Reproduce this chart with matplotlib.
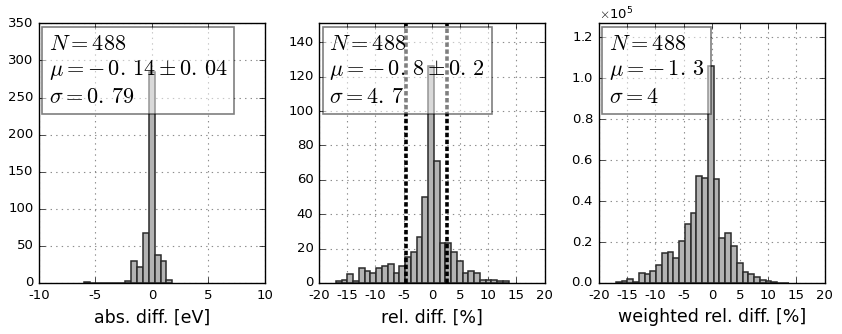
import numpy as np
import matplotlib
matplotlib.use("Agg")
import matplotlib.pyplot as plt

plt.style.use("classic")
plt.rcParams["mathtext.fontset"] = "cm"
plt.rcParams["axes.unicode_minus"] = False
plt.rcParams["font.family"] = ["DejaVu Sans"]

# ---------- data ----------
# abs. diff. [eV]: 15 bins, width 0.52 starting at -5.99
ABS_START, ABS_WIDTH = -5.99, 0.52
abs_counts = [1, 0, 0, 0, 0, 0, 0, 3, 29, 22, 67, 285, 38, 29, 4]

# rel. diff. [%]: 30 bins, width 1.02 starting at -17.0 (shared by both % panels)
REL_START, REL_WIDTH = -17.0, 1.02
rel_counts = [1, 2, 5, 1, 9, 7, 6, 9, 10, 11, 6, 10, 15, 18, 27, 50,
              126, 71, 23, 23, 18, 13, 6, 7, 6, 2, 2, 2, 1, 1]
rel_lines = [-4.5, 2.6]

# weighted rel. diff. [%], in units of 1e5
wrel_counts = [0.003, 0.010, 0.021, 0.005, 0.049, 0.044, 0.058, 0.086, 0.145,
               0.149, 0.120, 0.206, 0.286, 0.343, 0.521, 0.513, 1.059, 0.508,
               0.222, 0.242, 0.183, 0.100, 0.052, 0.045, 0.028, 0.013, 0.008,
               0.005, 0.002, 0.001]

stats = [
    r"$N=488$" "\n" r"$\mu=-\,0.\,14\pm0.\,04$" "\n" r"$\sigma=0.\,79$",
    r"$N=488$" "\n" r"$\mu=-\,0.\,8\pm0.\,2$" "\n" r"$\sigma=4.\,7$",
    r"$N=488$" "\n" r"$\mu=-\,1.\,3$" "\n" r"$\sigma=4$",
]
xlabels = ["abs. diff. [eV]", "rel. diff. [%]", "weighted rel. diff. [%]"]

# ---------- figure ----------
fig = plt.figure(figsize=(8.42, 3.34), dpi=100, facecolor="white")
lefts = [0.0463, 0.3789, 0.7114]
W, B, H = 0.2680, 0.1527, 0.7775


def draw_hist(ax, start, width, counts):
    counts = np.asarray(counts, dtype=float)
    edges = start + width * np.arange(len(counts) + 1)
    centers = 0.5 * (edges[:-1] + edges[1:])
    ax.hist(centers, bins=edges, weights=counts, histtype="bar",
            facecolor="#b3b3b3", edgecolor="#2a2a2a", linewidth=1.1, zorder=2)


axes = [fig.add_axes([l, B, W, H]) for l in lefts]

ax = axes[0]
draw_hist(ax, ABS_START, ABS_WIDTH, abs_counts)
ax.set_xlim(-10, 10)
ax.set_ylim(0, 350)
ax.set_xticks(np.arange(-10, 11, 5))
ax.set_yticks(np.arange(0, 351, 50))

ax = axes[1]
draw_hist(ax, REL_START, REL_WIDTH, rel_counts)
for x in rel_lines:
    ax.axvline(x, color="k", lw=2.6, linestyle=(0, (3.2, 1.8)), zorder=3)
ax.set_xlim(-20, 20)
ax.set_ylim(0, 151)
ax.set_xticks(np.arange(-20, 21, 5))
ax.set_yticks(np.arange(0, 141, 20))

ax = axes[2]
draw_hist(ax, REL_START, REL_WIDTH, np.asarray(wrel_counts) * 1e5)
ax.set_xlim(-20, 20)
ax.set_ylim(0, 1.268e5)
ax.set_xticks(np.arange(-20, 21, 5))
ax.set_yticks(np.arange(0, 1.21e5, 0.2e5))
ax.ticklabel_format(axis="y", style="sci", scilimits=(0, 0), useMathText=True)
ax.yaxis.get_offset_text().set_fontsize(9.5)

for ax, txt, lab in zip(axes, stats, xlabels):
    ax.grid(True, color="0.55", linestyle=":", linewidth=0.8, zorder=0)
    ax.set_axisbelow(True)
    ax.tick_params(labelsize=9.5, direction="in", top=True, right=True)
    ax.set_xlabel(lab, fontsize=12.5, labelpad=5)
    ax.text(0.045, 0.96, txt, transform=ax.transAxes, fontsize=16,
            va="top", ha="left", linespacing=1.28, zorder=5,
            bbox=dict(boxstyle="square,pad=0.3", facecolor="white",
                      edgecolor="k", linewidth=1.2, alpha=0.5))

fig.savefig("out.png", dpi=100, facecolor="white")
